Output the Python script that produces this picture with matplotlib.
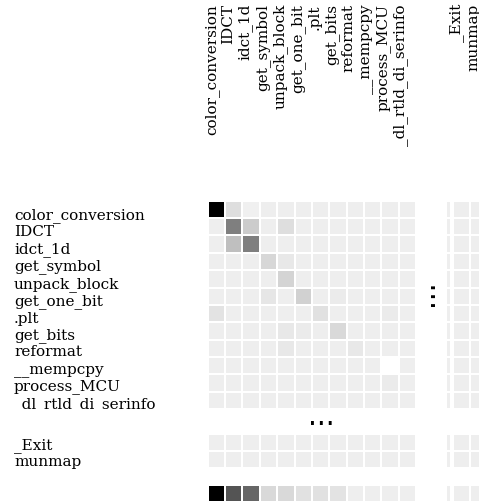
import numpy as np
import matplotlib
matplotlib.use("Agg")
import matplotlib.pyplot as plt

# --- data (cell darkness, 0 = white, 1 = black) ---
functions = ["color_conversion", "IDCT", "idct_1d", "get_symbol", "unpack_block",
             "get_one_bit", ".plt", "get_bits", "reformat", "__mempcpy",
             "process_MCU", "_dl_rtld_di_serinfo"]
tail_functions = ["_Exit", "munmap"]

main_vals = [
    [1.00, 0.13, 0.06, 0.07, 0.07, 0.07, 0.07, 0.07, 0.07, 0.07, 0.07, 0.07],
    [0.07, 0.50, 0.20, 0.07, 0.13, 0.07, 0.07, 0.07, 0.07, 0.07, 0.07, 0.07],
    [0.07, 0.25, 0.50, 0.07, 0.07, 0.07, 0.07, 0.07, 0.07, 0.07, 0.07, 0.07],
    [0.07, 0.07, 0.07, 0.16, 0.09, 0.07, 0.07, 0.07, 0.07, 0.07, 0.07, 0.07],
    [0.07, 0.07, 0.07, 0.07, 0.17, 0.07, 0.07, 0.07, 0.07, 0.07, 0.07, 0.07],
    [0.07, 0.07, 0.07, 0.10, 0.07, 0.18, 0.07, 0.08, 0.07, 0.07, 0.07, 0.07],
    [0.11, 0.07, 0.07, 0.07, 0.07, 0.07, 0.12, 0.07, 0.07, 0.07, 0.08, 0.07],
    [0.07, 0.07, 0.07, 0.07, 0.09, 0.08, 0.07, 0.15, 0.07, 0.07, 0.07, 0.07],
    [0.07, 0.07, 0.07, 0.07, 0.09, 0.07, 0.07, 0.07, 0.09, 0.07, 0.07, 0.07],
    [0.07, 0.07, 0.07, 0.07, 0.07, 0.07, 0.07, 0.07, 0.07, 0.07, 0.00, 0.07],
    [0.07, 0.07, 0.07, 0.07, 0.07, 0.07, 0.07, 0.07, 0.07, 0.07, 0.08, 0.07],
    [0.07, 0.07, 0.07, 0.07, 0.07, 0.07, 0.07, 0.07, 0.07, 0.07, 0.07, 0.07],
]
tail_vals = [
    [0.07] * 12,
    [0.07] * 12,
]
total_vals = [[1.00, 0.67, 0.60, 0.15, 0.15, 0.12, 0.12, 0.11, 0.07, 0.07, 0.07, 0.07]]
right_main_vals = [[0.07, 0.07] for _ in range(12)]
right_tail_vals = [[0.07, 0.07] for _ in range(2)]
right_total_vals = [[0.07, 0.07]]
edge_main_vals = [[0.07] for _ in range(12)]
edge_tail_vals = [[0.07] for _ in range(2)]
edge_total_vals = [[0.07]]

W, H = 479, 502
fig = plt.figure(figsize=(W / 100, H / 100), dpi=100)
plt.rcParams["font.family"] = "DejaVu Serif"

PITCH = 17.4
FS = 11
LS = 1.23


def add_axes_px(x0, y0, x1, y1):
    # pixel box (top-left origin) -> figure fraction
    ax = fig.add_axes([x0 / W, 1 - y1 / H, (x1 - x0) / W, (y1 - y0) / H])
    ax.set_axis_off()
    return ax


def draw_block(x0, y0, vals, xoff=0.0):
    vals = np.asarray(vals)
    nr, nc = vals.shape
    ax = add_axes_px(x0, y0, x0 + (nc - xoff) * PITCH, y0 + nr * PITCH)
    ax.pcolormesh(np.arange(nc + 1), np.arange(nr + 1), vals, cmap="gray_r",
                  vmin=0, vmax=1, edgecolors="white", linewidth=1.1)
    ax.set_xlim(xoff, nc)
    ax.set_ylim(nr, 0)
    return ax


draw_block(207.5, 201.5, main_vals)
draw_block(207.5, 434.5, tail_vals)
draw_block(207.5, 485.5, total_vals)

# right-hand block (last columns of the matrix)
draw_block(453.0, 201.5, right_main_vals)
draw_block(453.0, 434.5, right_tail_vals)
draw_block(453.0, 485.5, right_total_vals)
# sliver of the column just left of the cut
draw_block(446.5, 201.5, edge_main_vals, xoff=0.76)
draw_block(446.5, 434.5, edge_tail_vals, xoff=0.76)
draw_block(446.5, 485.5, edge_total_vals, xoff=0.76)

# row labels, clipped to the matrix height
lab = add_axes_px(0, 201.5, 207, 410.5)
lab.set_xlim(0, 207)
lab.set_ylim(410.5, 201.5)
lab.text(14, 208, "\n".join(functions), fontsize=FS, ha="left", va="top",
         linespacing=LS, clip_on=True)

lab2 = add_axes_px(0, 434.5, 207, 475)
lab2.set_xlim(0, 207)
lab2.set_ylim(475, 434.5)
lab2.text(14, 438, "\n".join(tail_functions), fontsize=FS, ha="left",
          va="top", linespacing=LS, clip_on=True)

# column labels
top = add_axes_px(0, 0, W, 200)
top.set_xlim(0, W)
top.set_ylim(200, 0)
top.text(204, 4, "\n".join(functions), fontsize=FS, rotation=90,
         ha="left", va="top", multialignment="right", linespacing=LS)
top.text(449, 4, "\n".join(tail_functions), fontsize=FS, rotation=90,
         ha="left", va="top", multialignment="right", linespacing=LS)

# ellipses
mid = add_axes_px(0, 0, W, H)
mid.set_xlim(0, W)
mid.set_ylim(H, 0)
mid.text(321, 425, "...", fontsize=20, ha="center", va="baseline",
         family="DejaVu Sans")
mid.text(433, 293, "...", fontsize=20, ha="center", va="baseline",
         rotation=90, rotation_mode="anchor", family="DejaVu Sans")

fig.savefig("out.png", dpi=100)
